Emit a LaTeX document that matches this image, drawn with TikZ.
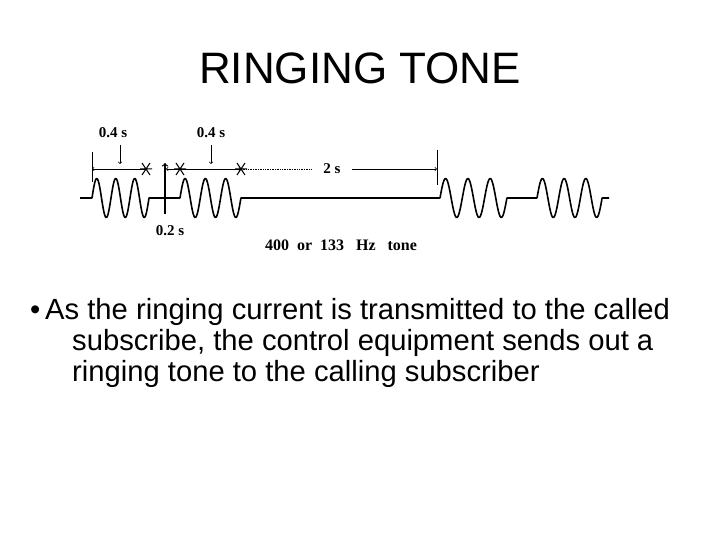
\documentclass[tikz,border=0pt]{standalone}
\usepackage{fontspec}
\setmainfont{Liberation Sans}
\newfontfamily\serf{Liberation Serif}
\begin{document}
\begin{tikzpicture}[x=1pt,y=-1pt,
  wave/.style={line width=1.6pt,line join=round},
  dim/.style={line width=0.7pt},
  lab/.style={font=\serf\bfseries\fontsize{15}{15}\selectfont,inner sep=0pt},
  body/.style={anchor=base west,inner sep=0pt,font=\fontsize{29.2}{29.2}\selectfont},
  star/.pic={\draw[line width=1pt] (-6,0)--(6,0) (-4,-6)--(4,6) (-4,6)--(4,-6);}]
\useasboundingbox (0,0) rectangle (720,540);
\node (title) at (360,68) {\fontsize{44}{44}\selectfont RINGING TONE};
% waveform
\draw[wave] (80,198) -- (92,198)
  plot[domain=0:3,samples=90,smooth] ({92+\x*19},{198-19.5*sin(\x*360)}) -- (180,198)
  plot[domain=0:3,samples=90,smooth] ({180+\x*20.3},{198-19.5*sin(\x*360)}) -- (440,198)
  plot[domain=0:3,samples=90,smooth] ({440+\x*22.3},{198-19.5*sin(\x*360)}) -- (537,198)
  plot[domain=0:3,samples=90,smooth] ({537+\x*21.7},{198-19.5*sin(\x*360)}) -- (609,198);
% dimensions
\coordinate (t1a) at (92,152); \coordinate (t1b) at (92,182);
\coordinate (t2a) at (437,150); \coordinate (t2b) at (437,185);
\draw[dim] (t1a) -- (t1b); \draw[dim] (t2a) -- (t2b);
\coordinate (s1) at (146,169); \coordinate (s2) at (180,169); \coordinate (s3) at (241,169);
\draw[dim,->] (s1) -- (92,169);
\draw[dim,->] (s2) -- (166,169);
\draw[dim,->] (s2) -- (s3);
\draw[dim,densely dotted] (s3) -- (312,169);
\draw[dim,->] (352,169) -- (437,169);
\pic at (s1) {star}; \pic at (s2) {star}; \pic at (s3) {star};
\draw[line width=1.3pt,->] (165,214) -- (165,163);
\draw[dim,->] (120,145) -- (120,164);
\draw[dim,->] (211,145) -- (211,164);
\node[lab] (l1) at (113,133) {0.4 s};
\node[lab] (l2) at (211,133) {0.4 s};
\node[lab] (l3) at (170,231) {0.2 s};
\node[lab] (l4) at (332,169) {2 s};
\node[lab,font=\serf\bfseries\fontsize{16}{16}\selectfont] (l5) at (341,245) {400 \ or \ 133 \ \ Hz \ \ tone};
% bullet text
\node[body] (b) at (30,319) {•};
\node[body] (t1) at (45,319) {As the ringing current is transmitted to the called};
\node[body] (t2) at (72,350) {subscribe, the control equipment sends out a};
\node[body] (t3) at (72,381) {ringing tone to the calling subscriber};
\end{tikzpicture}
\end{document}
